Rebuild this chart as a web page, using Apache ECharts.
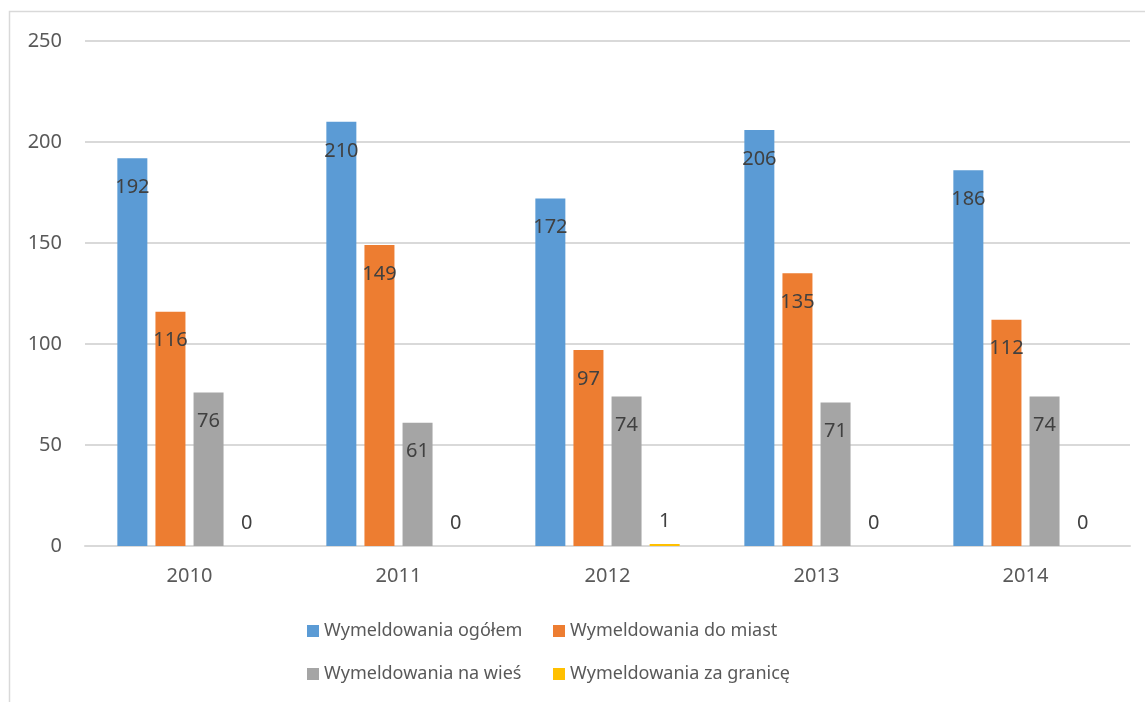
<!DOCTYPE html>
<html>
<head>
<meta charset="utf-8">
<script src="https://cdn.jsdelivr.net/npm/echarts@6/dist/echarts.min.js"></script>
<style>html,body{margin:0;padding:0;background:#fff}#c{width:1145px;height:702px}</style>
</head>
<body>
<div id="c"></div>
<script>
const categories = ['2010', '2011', '2012', '2013', '2014'];
const seriesNames = ['Wymeldowania ogółem', 'Wymeldowania do miast', 'Wymeldowania na wieś', 'Wymeldowania za granicę'];
const ogolem = [192, 210, 172, 206, 186];
const doMiast = [116, 149, 97, 135, 112];
const naWies = [76, 61, 74, 71, 74];
const zaGranice = [0, 0, 1, 0, 0];
const yTicks = [0, 50, 100, 150, 200, 250];

const colors = ['#5B9BD5', '#ED7D31', '#A5A5A5', '#FFC000'];
const FONT = 'Noto Sans';
const chart = echarts.init(document.getElementById('c'), null, {renderer: 'canvas'});

const labelInside = {
  show: true, position: 'insideTop', distance: 19,
  color: '#404040', fontSize: 20, fontFamily: FONT
};
const labelTop = {
  show: true, position: 'top', distance: 13,
  color: '#404040', fontSize: 20, fontFamily: FONT
};

function legendAt(name, left, top) {
  return {
    data: [name], left: left, top: top, padding: 0,
    icon: 'rect', itemWidth: 12, itemHeight: 12, itemGap: 0,
    textStyle: {color: '#595959', fontSize: 18, fontFamily: FONT},
    selectedMode: false
  };
}

const valuesList = [ogolem, doMiast, naWies, zaGranice];

chart.setOption({
  animation: false,
  color: colors,
  graphic: [{
    type: 'rect', silent: true,
    shape: {x: 9.5, y: 11.5, width: 3000, height: 3000},
    style: {fill: 'none', stroke: '#D9D9D9', lineWidth: 1.5}
  }],
  grid: {left: 85, right: 15, top: 41, bottom: 156, containLabel: false},
  legend: [
    legendAt(seriesNames[0], 307, 622),
    legendAt(seriesNames[1], 553, 622),
    legendAt(seriesNames[2], 307, 665),
    legendAt(seriesNames[3], 553, 665)
  ],
  xAxis: {
    type: 'category', data: categories,
    axisLine: {lineStyle: {color: '#D9D9D9', width: 2}},
    axisTick: {show: false},
    axisLabel: {color: '#595959', fontSize: 20, fontFamily: FONT, margin: 20}
  },
  yAxis: {
    type: 'value', min: yTicks[0], max: yTicks[yTicks.length - 1], interval: 50,
    axisLine: {show: false}, axisTick: {show: false},
    splitLine: {lineStyle: {color: '#D9D9D9', width: 2}},
    axisLabel: {color: '#595959', fontSize: 20, fontFamily: FONT, margin: 23}
  },
  series: seriesNames.map((n, i) => ({
    name: n, type: 'bar', data: valuesList[i],
    barWidth: 30, barGap: '27%',
    label: i === 3 ? labelTop : labelInside,
    itemStyle: {color: colors[i]}
  }))
});
</script>
</body>
</html>
